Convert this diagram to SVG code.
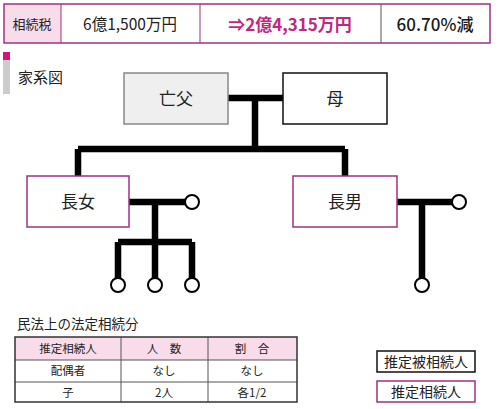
<svg xmlns="http://www.w3.org/2000/svg" width="500" height="409" viewBox="0 0 500 409">
<style>
text{font-family:"Noto Sans CJK JP","Noto Sans",sans-serif;fill:#222;}
.c{text-anchor:middle;}
.ln{stroke:#000;stroke-width:6.5;fill:none;}
.leaf{fill:#fff;stroke:#000;stroke-width:2;}
.heir{fill:#fff;stroke:#a2307f;stroke-width:1.5;}
.th{stroke:#555;stroke-width:1;}
</style>
<rect width="500" height="409" fill="#fff"/>
<g id="summary">
<rect x="4" y="4" width="57" height="39" fill="#f8dcea"/>
<rect x="4" y="4" width="486" height="39" fill="none" stroke="#a2307f" stroke-width="1.5"/>
<line x1="61" y1="4" x2="61" y2="43" stroke="#a2307f" stroke-width="1"/>
<line x1="200" y1="4" x2="200" y2="43" stroke="#a2307f" stroke-width="1"/>
<line x1="381" y1="4" x2="381" y2="43" stroke="#555" stroke-width="1"/>
<text x="32" y="29" class="c" font-size="13">相続税</text>
<text x="130" y="30" class="c" font-size="15.5">6億1,500万円</text>
<text x="290" y="31" class="c" font-size="17" font-weight="bold" style="fill:#c2267f">⇒2億4,315万円</text>
<text x="435" y="31" class="c" font-size="17" font-weight="500" style="fill:#1a1a1a">60.70%減</text>
</g>
<g id="title">
<rect x="3" y="52" width="7" height="8" fill="#d4137f"/>
<rect x="3" y="60" width="7" height="34" fill="#ccc"/>
<text x="18" y="83" font-size="15">家系図</text>
</g>
<g id="connectors">
<path class="ln" d="M228,98 H283 M255,98 V149 M78,149 H345 M78,149 V176 M345,149 V176"/>
<path class="ln" d="M129,202 H185 M155,202 V242 M118,242 H192 M118,242 V278 M155,242 V278 M192,242 V278"/>
<path class="ln" d="M397,202 H452 M422,202 V278"/>
</g>
<g id="father">
<rect x="124" y="73" width="104" height="51" fill="#efefef" stroke="#888" stroke-width="1.5"/>
<text x="176" y="105" class="c" font-size="17">亡父</text>
</g>
<g id="mother">
<rect x="283" y="73" width="104" height="51" fill="#fff" stroke="#111" stroke-width="1.5"/>
<text x="335" y="105" class="c" font-size="17">母</text>
</g>
<g id="daughter">
<rect class="heir" x="27" y="176" width="102" height="51"/>
<text x="78" y="208" class="c" font-size="17">長女</text>
</g>
<g id="son">
<rect class="heir" x="293" y="176" width="104" height="51"/>
<text x="345" y="208" class="c" font-size="17">長男</text>
</g>
<g id="spouse-daughter"><circle class="leaf" cx="192" cy="202" r="7"/></g>
<g id="gc1"><circle class="leaf" cx="118" cy="285" r="7"/></g>
<g id="gc2"><circle class="leaf" cx="155" cy="285" r="7"/></g>
<g id="gc3"><circle class="leaf" cx="192" cy="285" r="7"/></g>
<g id="spouse-son"><circle class="leaf" cx="459" cy="202" r="7"/></g>
<g id="gc4"><circle class="leaf" cx="422" cy="285" r="7"/></g>
<g id="share-table">
<text x="17" y="329" font-size="13.5">民法上の法定相続分</text>
<rect x="15" y="337" width="282" height="23" fill="#f8dcea"/>
<line class="th" x1="15" y1="360" x2="297" y2="360"/>
<line class="th" x1="15" y1="382" x2="297" y2="382"/>
<line class="th" x1="121" y1="337" x2="121" y2="402"/>
<line class="th" x1="208" y1="337" x2="208" y2="402"/>
<rect x="15" y="337" width="282" height="65" fill="none" stroke="#333" stroke-width="1.5"/>
<text x="68" y="353" class="c" font-size="11.5">推定相続人</text>
<text x="164" y="353" class="c" font-size="11.5">人　数</text>
<text x="252" y="353" class="c" font-size="11.5">割　合</text>
<text x="68" y="375" class="c" font-size="11.5">配偶者</text>
<text x="164" y="375" class="c" font-size="11.5">なし</text>
<text x="252" y="375" class="c" font-size="11.5">なし</text>
<text x="68" y="397" class="c" font-size="11.5">子</text>
<text x="164" y="397" class="c" font-size="11.5">2人</text>
<text x="252" y="397" class="c" font-size="11.5">各1/2</text>
</g>
<g id="legend">
<rect x="377" y="351" width="98" height="21" fill="#fff" stroke="#111" stroke-width="1.5"/>
<text x="426" y="367" class="c" font-size="14">推定被相続人</text>
<rect x="377" y="381" width="98" height="21" fill="#fff" stroke="#a2307f" stroke-width="1.5"/>
<text x="426" y="397" class="c" font-size="14">推定相続人</text>
</g>
</svg>
